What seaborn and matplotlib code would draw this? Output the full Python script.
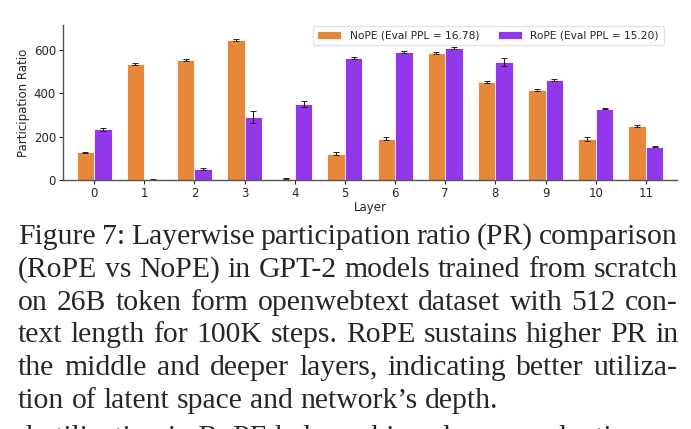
import numpy as np
import pandas as pd
import seaborn as sns
import matplotlib.pyplot as plt

sns.set_theme(style="ticks")
plt.rcParams["font.family"] = ["DejaVu Sans"]

layers = list(range(12))
nope = [128, 535, 554, 646, 5, 122, 191, 586, 454, 417, 189, 249]
nope_err = [3, 5, 5, 5, 2, 6, 6, 4, 5, 5, 8, 3]
rope = [234, 3, 51, 291, 352, 565, 591, 609, 544, 463, 329, 154]
rope_err = [7, 1, 6, 30, 15, 4, 6, 6, 18, 5, 3, 3]
labels = ["NoPE (Eval PPL = 16.78)", "RoPE (Eval PPL = 15.20)"]
colors = ["#E6873A", "#9337EA"]

caption = [
    "Figure 7: Layerwise participation ratio (PR) comparison",
    "(RoPE vs NoPE) in GPT-2 models trained from scratch",
    "on 26B token form openwebtext dataset with 512 con-",
    "text length for 100K steps. RoPE sustains higher PR in",
    "the middle and deeper layers, indicating better utiliza-",
    "tion of latent space and network\u2019s depth.",
]
next_line = "d utilization in RoPE helps achieve lower evaluation"

df = pd.DataFrame({
    "layer": layers * 2,
    "pr": nope + rope,
    "err": nope_err + rope_err,
    "model": [labels[0]] * 12 + [labels[1]] * 12,
})

W, H = 691, 429
fig = plt.figure(figsize=(W / 100, H / 100), dpi=100)
ax = fig.add_axes([63 / W, 1 - 180 / H, (677 - 63) / W, (180 - 25) / H])

sns.barplot(data=df, x="layer", y="pr", hue="model", palette=colors,
            errorbar=None, width=0.7, edgecolor="white", linewidth=0.6,
            saturation=1, ax=ax)

# error bars at the centres of the drawn bars
bars = [p for p in ax.patches if p.get_height() > 0 or p.get_width() > 0][:24]
xs = [p.get_x() + p.get_width() / 2 for p in bars]
ax.errorbar(xs, df["pr"], yerr=df["err"], fmt="none", ecolor="#222222",
            elinewidth=0.8, capsize=2, capthick=0.7)

ax.set_xlim(-0.62, 11.62)
ax.set_ylim(0, 716)
ax.set_yticks([0, 200, 400, 600])
ax.set_xlabel("Layer", fontsize=8.5, labelpad=1)
ax.set_ylabel("Participation Ratio", fontsize=8.5, labelpad=3)
ax.tick_params(labelsize=8.5, length=3, width=0.8, pad=2)
for s in ["top", "right"]:
    ax.spines[s].set_visible(False)
for s in ["left", "bottom"]:
    ax.spines[s].set_color("#555555")
    ax.spines[s].set_linewidth(1.0)
ax.legend(loc="upper right", ncol=2, fontsize=7.7, frameon=True,
          bbox_to_anchor=(0.987, 1.03), handlelength=2.2, columnspacing=1.8,
          borderpad=0.45, edgecolor="#dddddd")

# justified caption, word by word
fs = 21.3
x0, x1 = 18, 678
r = fig.canvas.get_renderer()
def width(s):
    t = fig.text(0, 0, s, fontsize=fs, family="Liberation Serif")
    w = t.get_window_extent(r).width
    t.remove()
    return w

base = [244, 277, 310, 342, 375, 408]
for i, line in enumerate(caption):
    words = line.split(" ")
    ws = [width(w) for w in words]
    if i < len(caption) - 1:
        gap = (x1 - x0 - sum(ws)) / (len(words) - 1)
    else:
        gap = width("a b") - width("ab")
    x = x0
    for w, wd in zip(words, ws):
        fig.text(x / W, 1 - base[i] / H, w, fontsize=fs,
                 family="Liberation Serif", va="baseline", ha="left")
        x += wd + gap
fig.text(x0 / W, 1 - 445 / H, next_line, fontsize=fs,
         family="Liberation Serif", va="baseline", ha="left")

fig.savefig("out.png", dpi=100)
